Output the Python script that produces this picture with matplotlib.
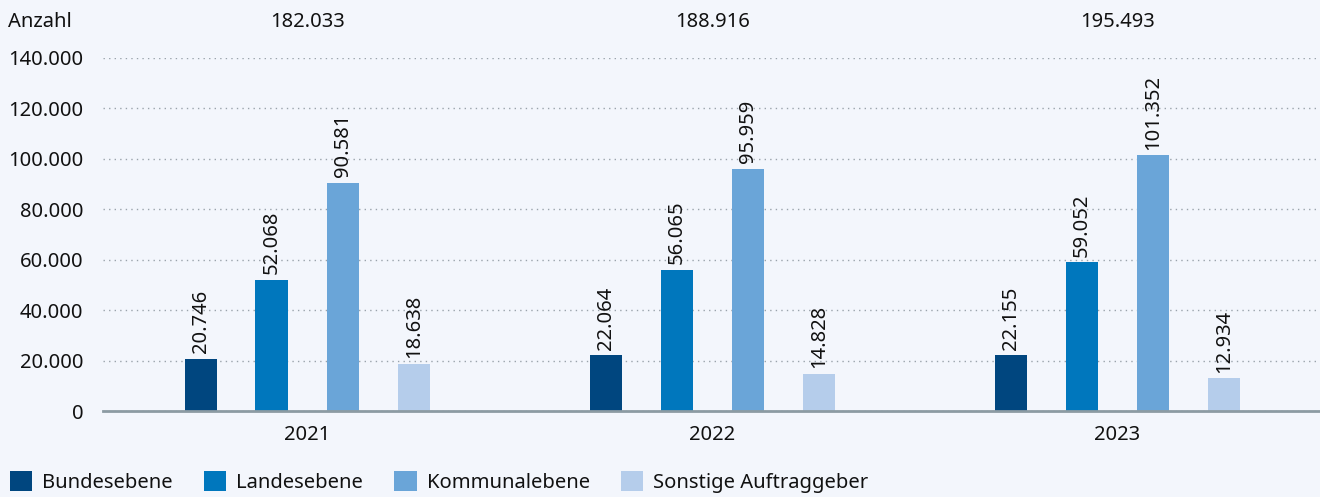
import numpy as np
import matplotlib
matplotlib.use("Agg")
import matplotlib.pyplot as plt
from matplotlib.patches import Patch

# ── Data ──────────────────────────────────
years = ["2021", "2022", "2023"]
series = ["Bundesebene", "Landesebene", "Kommunalebene", "Sonstige Auftraggeber"]
bund = [20746, 22064, 22155]
land = [52068, 56065, 59052]
kommunal = [90581, 95959, 101352]
sonstige = [18638, 14828, 12934]
totals = [182033, 188916, 195493]
yticks = [0, 20000, 40000, 60000, 80000, 100000, 120000, 140000]

# ── Style ─────────────────────────────────
BG = "#f3f6fc"
COLORS = ["#00467f", "#0077bd", "#6aa5d8", "#b5cdeb"]
TXT = "#111111"
FS = 14.5
plt.rcParams["font.family"] = ["Noto Sans", "DejaVu Sans"]


def de(n):
    return f"{n:,}".replace(",", ".")


fig = plt.figure(figsize=(13.2, 4.97), dpi=100, facecolor=BG)
ax = fig.add_axes([0.078, 0.173, 0.922, 0.7103], facecolor=BG)

x = np.arange(len(years))
offsets = [-0.263, -0.088, 0.088, 0.263]
width = 0.079
for vals, off, col in zip([bund, land, kommunal, sonstige], offsets, COLORS):
    bars = ax.bar(x + off, vals, width, color=col, zorder=3)
    for b, v in zip(bars, vals):
        ax.annotate(de(v), (b.get_x() + b.get_width() / 2, v),
                    xytext=(0, 4), textcoords="offset points",
                    rotation=90, ha="center", va="bottom",
                    fontsize=FS, color=TXT)

ax.set_xlim(-0.504, 2.5)
ax.set_ylim(0, 140000)
ax.set_yticks(yticks)
ax.set_yticklabels([de(t) for t in yticks], fontsize=FS, color=TXT)
ax.set_xticks(x)
ax.set_xticklabels(years, fontsize=FS, color=TXT)
ax.tick_params(length=0, pad=14)
ax.tick_params(axis="x", pad=10)
ax.grid(axis="y", color="#9aa3ab", linestyle=(0, (1, 3)), linewidth=1, zorder=0)
for s in ["top", "right", "left"]:
    ax.spines[s].set_visible(False)
ax.spines["bottom"].set_color("#8c9ba3")
ax.spines["bottom"].set_linewidth(2)
ax.spines["bottom"].set_zorder(4)

# totals and unit label on top
fig.text(8 / 1320, 1 - 22 / 497, "Anzahl", fontsize=FS, color=TXT, va="center")
for xi, t in zip(x, totals):
    ax.text(xi, 1 + (58 - 22) / 353, de(t), transform=ax.get_xaxis_transform(),
            fontsize=FS, color=TXT, ha="center", va="center")

handles = [Patch(facecolor=c, edgecolor="none") for c in COLORS]
fig.legend(handles, series, loc="center left", bbox_to_anchor=(-0.0015, 15 / 497),
           ncol=4, frameon=False, fontsize=FS, handlelength=1.1,
           handleheight=1.1, handletextpad=0.5, columnspacing=1.55,
           labelcolor=TXT, borderaxespad=0.2)

fig.savefig("out.png", dpi=100, facecolor=BG)
